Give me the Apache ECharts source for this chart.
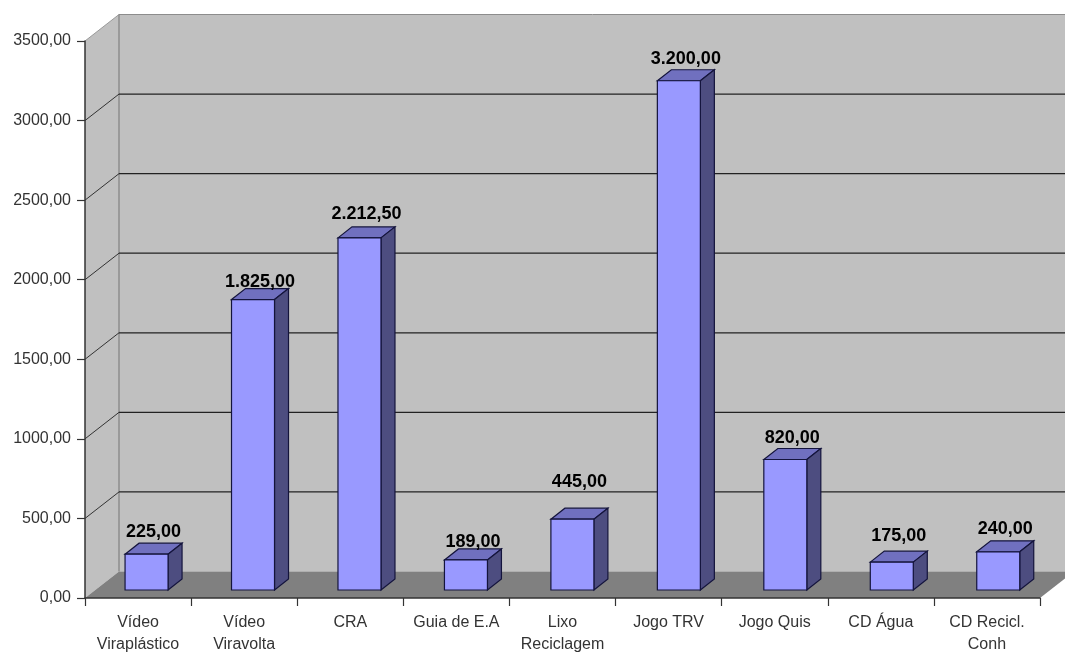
<!DOCTYPE html>
<html>
<head>
<meta charset="utf-8">
<style>html,body{margin:0;padding:0;background:#fff}#c{width:1065px;height:652px}</style>
<script src="https://cdn.jsdelivr.net/npm/echarts@6/dist/echarts.min.js"></script>
</head>
<body>
<div id="c"></div>
<script>
const categories = ['Vídeo\nViraplástico','Vídeo\nViravolta','CRA','Guia de E.A','Lixo\nReciclagem','Jogo TRV','Jogo Quis','CD Água','CD Recicl.\nConh'];
const values = [225, 1825, 2212.5, 189, 445, 3200, 820, 175, 240];
const gridTicks = [500, 1000, 1500, 2000, 2500, 3000];
const labelLift = [11, 7, 13, 7, 26, 11, 10, 15, 12];

const FONT = '"Liberation Sans", Arial, sans-serif';
const WALL_DX = 34, WALL_DY = -26.5;
const BAR_DX = 8.5, BAR_DRIFT = 0.35, BAR_DY = -8, BAR_W = 43, DEPTH_X = 14, DEPTH_Y = -11;

function brNumber(v) {
  const p = v.toFixed(2).split('.');
  return p[0].replace(/\B(?=(\d{3})+$)/g, '.') + ',' + p[1];
}
function poly(points, fill, stroke, lw) {
  return { type: 'polygon', shape: { points }, style: { fill, stroke: stroke || 'none', lineWidth: lw || 0 } };
}
function seg(x1, y1, x2, y2, stroke, lw) {
  return { type: 'line', shape: { x1, y1, x2, y2 }, style: { stroke, lineWidth: lw, fill: 'none' } };
}

function renderWalls(params) {
  const c = params.coordSys, L = c.x, R = c.x + c.width, T = c.y, B = c.y + c.height;
  const bx = L + WALL_DX, dy = WALL_DY;
  return { type: 'group', children: [
    poly([[bx, T + dy], [R + WALL_DX, T + dy], [R + WALL_DX, B + dy], [bx, B + dy]], '#c0c0c0'),
    poly([[L, B], [bx, B + dy], [bx, T + dy], [L, T]], '#c0c0c0'),
    poly([[L, B], [bx, B + dy], [R + WALL_DX, B + dy], [R, B]], '#808080'),
    seg(bx, T + dy, R + WALL_DX, T + dy, '#8c8c8c', 1),
    seg(L, T, bx, T + dy, '#9a9a9a', 1),
    seg(bx, T + dy, bx, B + dy, '#808080', 1.2)
  ] };
}
function renderGrid(params, api) {
  const c = params.coordSys, L = c.x;
  const y = api.coord([0, api.value(0)])[1];
  return { type: 'group', children: [
    seg(L, y, L + WALL_DX, y + WALL_DY, '#222', 0.9),
    seg(L + WALL_DX, y + WALL_DY, c.x + c.width + WALL_DX, y + WALL_DY, '#222', 1.2)
  ] };
}
function renderBar(params, api) {
  const i = api.value(0), v = api.value(1);
  const top = api.coord([i, v]), base = api.coord([i, 0]);
  const x0 = top[0] + BAR_DX + i * BAR_DRIFT - BAR_W / 2, x1 = x0 + BAR_W;
  const yT = top[1] + BAR_DY, yB = base[1] + BAR_DY;
  const edge = '#14143c';
  return { type: 'group', children: [
    poly([[x0, yT], [x0 + DEPTH_X, yT + DEPTH_Y], [x1 + DEPTH_X, yT + DEPTH_Y], [x1, yT]], '#7070bf', edge, 1.2),
    poly([[x1, yT], [x1 + DEPTH_X, yT + DEPTH_Y], [x1 + DEPTH_X, yB + DEPTH_Y], [x1, yB]], '#4d4d80', edge, 1.2),
    poly([[x0, yT], [x1, yT], [x1, yB], [x0, yB]], '#9999ff', edge, 1.2),
    { type: 'text', style: {
        text: brNumber(v), x: top[0] + 15.5 + i * BAR_DRIFT, y: yT + DEPTH_Y - labelLift[i],
        align: 'center', verticalAlign: 'middle',
        fontFamily: FONT, fontSize: 18, fontWeight: 'bold', fill: '#000'
    } }
  ] };
}

const chart = echarts.init(document.getElementById('c'), null, { renderer: 'canvas' });
chart.setOption({
  animation: false,
  backgroundColor: '#fff',
  grid: { left: 85, right: 25, top: 41, bottom: 54, containLabel: false, outerBoundsMode: 'none' },
  xAxis: {
    type: 'category', data: categories, z: 10,
    axisLine: { lineStyle: { color: '#333', width: 1.5 } },
    axisTick: { show: true, length: 8, lineStyle: { color: '#333', width: 1.2 } },
    axisLabel: { interval: 0, margin: 14, fontFamily: FONT, fontSize: 16, lineHeight: 22, color: '#333' }
  },
  yAxis: {
    type: 'value', min: 0, max: 3500, interval: 500, z: 10,
    axisLine: { show: true, lineStyle: { color: '#333', width: 1.5 } },
    axisTick: { show: true, length: 8, lineStyle: { color: '#333', width: 1.2 } },
    splitLine: { show: false },
    axisLabel: { margin: 14, verticalAlign: 'middle', verticalAlignMaxLabel: 'middle', verticalAlignMinLabel: 'middle', lineHeight: 16, fontFamily: FONT, fontSize: 16, color: '#333', formatter: v => v.toFixed(2).replace('.', ',') }
  },
  series: [
    { type: 'custom', z: 1, silent: true, renderItem: renderWalls, data: [[0]] },
    { type: 'custom', z: 2, silent: true, renderItem: renderGrid, encode: { y: 0 }, data: gridTicks.map(t => [t]) },
    { type: 'custom', z: 3, silent: true, renderItem: renderBar, encode: { x: 0, y: 1 }, data: values.map((v, i) => [i, v]) }
  ]
});
</script>
</body>
</html>
